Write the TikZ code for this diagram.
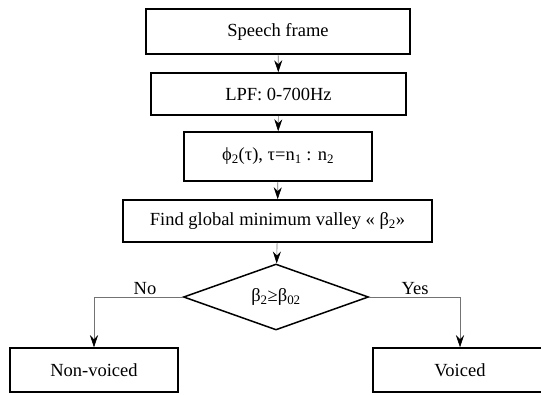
\documentclass[tikz,border=0pt]{standalone}
\usepackage{fontspec}
\setmainfont{Liberation Serif}
\usetikzlibrary{shapes.geometric,arrows.meta}
\tikzset{
  stepbox/.style={draw=black, line width=1.5pt, fill=white, rectangle, inner sep=0pt, font=\fontsize{18.5}{22}\selectfont},
  decide/.style={draw=black, line width=1.5pt, fill=white, diamond, inner sep=0pt, font=\fontsize{18.5}{22}\selectfont},
  flow/.style={draw=black!55, line width=0.6pt, -{Stealth[length=12pt,width=8pt,inset=4pt,black]}},
  lbl/.style={inner sep=1pt, font=\fontsize{18.5}{22}\selectfont}
}
\begin{document}
\begin{tikzpicture}[x=1pt,y=-1pt]
\useasboundingbox (0,0) rectangle (541,394);
\node[stepbox, minimum width=264pt, minimum height=45pt] (b1) at (278,31.5) {Speech frame};
\node[stepbox, minimum width=255pt, minimum height=42pt] (b2) at (278.5,94) {LPF: 0-700Hz};
\node[stepbox, minimum width=188pt, minimum height=49pt] (b3) at (278,156.5) {ϕ\textsubscript{2}(τ), τ=n\textsubscript{1} : n\textsubscript{2}};
\node[stepbox, minimum width=309pt, minimum height=42pt] (b4) at (277.5,221) {Find global minimum valley « β\textsubscript{2}»};
\node[decide, minimum width=185pt, minimum height=66pt, aspect=2.8] (d) at (276,297) {β\textsubscript{2}≥β\textsubscript{02}};
\node[stepbox, minimum width=168pt, minimum height=44pt] (nv) at (94,370) {Non-voiced};
\node[stepbox, minimum width=174pt, minimum height=44pt] (v) at (460,370) {Voiced};
\draw[flow] (b1) -- (b2);
\draw[flow] (b2) -- (b3);
\draw[flow] (b3) -- (b4);
\draw[flow] (b4) -- (d);
\draw[flow] (d.west) -| (nv.north);
\draw[flow] (d.east) -| (v.north);
\node[lbl, anchor=south] (no) at (145,296) {No};
\node[lbl, anchor=south] (yes) at (415,296) {Yes};
\end{tikzpicture}
\end{document}
